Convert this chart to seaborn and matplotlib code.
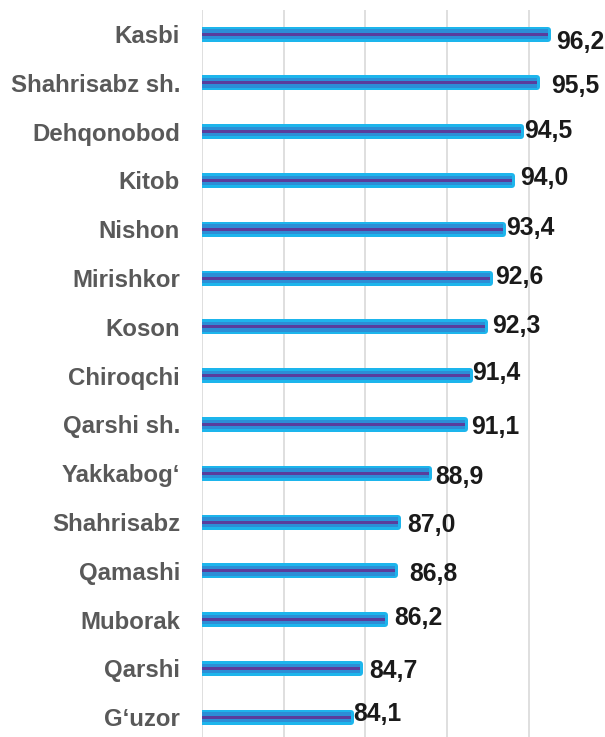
import matplotlib
matplotlib.use("Agg")
import matplotlib.pyplot as plt
import matplotlib.transforms as mtransforms
import seaborn as sns
import numpy as np

categories = ["Kasbi", "Shahrisabz sh.", "Dehqonobod", "Kitob", "Nishon", "Mirishkor",
              "Koson", "Chiroqchi", "Qarshi sh.", "Yakkabog\u2018", "Shahrisabz",
              "Qamashi", "Muborak", "Qarshi", "G\u2018uzor"]
values = [96.2, 95.5, 94.5, 94.0, 93.4, 92.6, 92.3, 91.4, 91.1, 88.9, 87.0, 86.8, 86.2, 84.7, 84.1]
value_labels = [f"{v:.1f}".replace(".", ",") for v in values]

# manual label nudges (pixels): dx right, dy down
label_dx = [5, 12, 1, 5, 1, 3, 5, 0, 4, 4, 7, 12, 7, 6, 0]
label_dy = [6, 1.5, -2, -4.5, -3.5, -2.5, -2.5, -4.7, 1, 2, 1.5, 1.5, -3.7, 1, -5]

sns.set_style("white")
plt.rcParams["font.family"] = ["Liberation Sans", "DejaVu Sans"]

LIGHT = "#1DB5EC"
MID = "#2C8ED6"
PURPLE = "#5A3D9C"

fig = plt.figure(figsize=(6.05, 7.37), dpi=100)
W, H = 605, 737
px_per_unit = 16.34
x0, x1 = 75, 100
left_px = 202
top_px = 9.6
row_px = 48.8
ax = fig.add_axes([left_px / W, 1 - (top_px + 15 * row_px) / H,
                   (x1 - x0) * px_per_unit / W, 15 * row_px / H])

# outer light-blue rounded body
sns.barplot(x=values, y=categories, orient="h", color=LIGHT, saturation=1,
            width=9.0 / row_px, edgecolor=LIGHT, linewidth=6 * 0.72, ax=ax, zorder=2)
for p in ax.patches:
    p.set_joinstyle("round")
# inner mid-blue band
sns.barplot(x=values, y=categories, orient="h", color=MID, saturation=1,
            width=9.5 / row_px, linewidth=0, ax=ax, zorder=3)
# purple core line
sns.barplot(x=values, y=categories, orient="h", color=PURPLE, saturation=1,
            width=3 / row_px, linewidth=0, ax=ax, zorder=4)

ax.set_xlim(x0, x1)
ax.set_ylim(len(categories) - 0.5, -0.5)
ax.set_xticks([75, 80, 85, 90, 95, 100])
ax.set_xticklabels([])
ax.grid(axis="x", color="#D9D9D9", linewidth=1.2)
ax.grid(axis="y", visible=False)
ax.set_axisbelow(True)
for s in ax.spines.values():
    s.set_visible(False)
ax.tick_params(axis="both", length=0)
ax.tick_params(axis="y", pad=15.8, labelsize=17.3, labelcolor="#595959")
for t in ax.get_yticklabels():
    t.set_fontweight("bold")
ax.set_xlabel("")
ax.set_ylabel("")

fs_val = 17.8
cap_h = 0.716 * fs_val / 72 * 100  # cap height in px
for i, (v, lab) in enumerate(zip(values, value_labels)):
    off = mtransforms.ScaledTranslation((label_dx[i] + 2.5) / 100,
                                        -(label_dy[i] + cap_h / 2) / 100,
                                        fig.dpi_scale_trans)
    ax.text(v, i, lab, transform=ax.transData + off, ha="left", va="baseline",
            fontsize=fs_val, fontweight="bold", color="#1A1A1A", zorder=5, clip_on=False)

fig.savefig("out.png", dpi=100)
